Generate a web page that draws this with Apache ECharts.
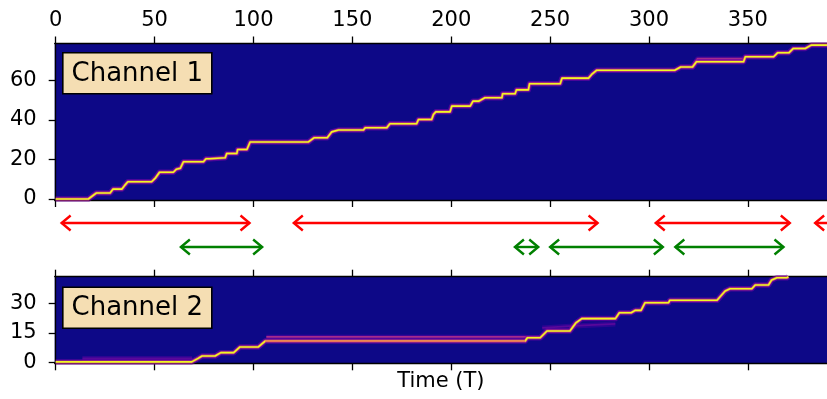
<!DOCTYPE html>
<html>
<head>
<meta charset="utf-8">
<script src="https://cdn.jsdelivr.net/npm/echarts@6/dist/echarts.min.js"></script>
<style>html,body{margin:0;padding:0;background:#fff}#c{width:827px;height:399px}</style>
</head>
<body>
<div id="c"></div>
<script>
// ---- data ----
const xTicks = [0, 50, 100, 150, 200, 250, 300, 350];
const ch1YTicks = [0, 20, 40, 60];
const ch2YTicks = [0, 15, 30];

// Channel 1 most-likely state path (time, state)
const ch1T = [0,16.5,20.5,27.5,29,33.5,35,36.5,48.5,50.5,52.5,59.5,61,63,64.6,74.7,76,78,79,85.7,86.5,91.6,92,96.7,98.3,127.8,130.6,137.3,139.6,143,155.6,156.5,167.4,169,182.5,183.4,190.1,191,192.2,199.4,200.3,209.6,211,214,217,225.6,226,232.3,233,239,239.6,255.1,256,269.4,271,273.6,313,316,322,324,347.8,348.7,363,365,370.7,373,379,382,390];
const ch1S = [0,0,3,3,5,5,7,8.7,8.7,10.7,13.5,13.5,15,15.5,18.8,18.8,20.3,20.3,20.8,20.8,23,23,25,25,28.8,28.8,30.9,30.9,33.9,34.8,34.8,36,36,38,38,40.1,40.1,42.7,44,44,46.9,46.9,49.4,49.4,51.1,51.1,53.1,53.1,55.1,55.1,58.2,58.2,61,61,62.9,65,65,66.6,66.6,69.3,69.3,71.8,71.8,73.8,73.8,76,76,77.7,77.7];
// Channel 1 secondary (weaker) path
const ch1AltT = [322, 324.5, 347.5];
const ch1AltS = [66.6, 70.8, 70.8];

// Channel 2 most-likely state path
const ch2T = [0,68.8,72,74,80.6,83.5,90,93.2,102.5,105.9,237.4,238.5,245,248.4,260,263,266,283,285,291,293,296,298,309.9,310.5,334.4,338.5,341,352,353.7,360.4,362,364.7,369.8,370.5];
const ch2S = [0.2,0.2,2,3.2,3.2,4.9,4.9,7.8,7.8,10.8,10.8,12.5,12.5,15.9,15.9,20,22.2,22.2,25.2,25.2,26.4,26.4,30.3,30.3,31.5,31.5,36.2,37.4,37.4,39.3,39.3,41.8,43,43,43.5];
// Channel 2 split section (shared probability, dimmer)
const ch2SplitT = [106, 237.4];
const ch2SplitS = [10.8, 10.8];
// Channel 2 secondary paths
const ch2Alt1T = [13.5, 69];
const ch2Alt1S = [2, 2];
const ch2Alt2T = [106.5, 238];
const ch2Alt2S = [12.9, 12.9];
const ch2Alt3T = [246, 262, 283];
const ch2Alt3S = [17.5, 18.5, 19.5];

// Interval arrows: [start, end]
const redArrows = [[3, 98], [120.4, 274], [303.4, 371.2], [384, 420]];
const greenArrows = [[63.3, 104.4], [232.2, 244], [250, 307], [313.3, 368]];

// ---- chart ----
const FONT = 'DejaVu Sans';
const zip = (a, b) => a.map((v, i) => [v, b[i]]);
const chart = echarts.init(document.getElementById('c'), null, {renderer: 'canvas'});

const X0 = -0.5, X1 = 390;
const GL = 54.7;
const axisLineStyle = {color: '#000', width: 1.3};
const tickStyle = {color: '#000', width: 1.3};

function xAx(grid, pos, opts) {
  return Object.assign({
    type: 'value', gridIndex: grid, position: pos, min: X0, max: X1,
    axisLine: {show: true, onZero: false, lineStyle: axisLineStyle},
    axisTick: {show: true, length: 7, lineStyle: tickStyle, customValues: xTicks},
    axisLabel: {show: false, customValues: xTicks},
    splitLine: {show: false}
  }, opts || {});
}

function pathSeries(xIdx, yIdx, T, S, layers) {
  return layers.map(l => ({
    type: 'line', xAxisIndex: xIdx, yAxisIndex: yIdx,
    data: zip(T, S), symbol: 'none', showSymbol: false, animation: false,
    clip: true, z: l.z || 2,
    lineStyle: {color: l.color, width: l.width, opacity: l.opacity == null ? 1 : l.opacity, join: 'round', cap: 'butt'}
  }));
}
const mainLayers = [
  {color: '#7e03a8', width: 5.5, opacity: 0.55, z: 2},
  {color: '#cc4778', width: 3, opacity: 0.85, z: 3},
  {color: '#f0f921', width: 1.6, z: 4}
];
const altLayers = [
  {color: '#6a00a8', width: 4.5, opacity: 0.5, z: 2},
  {color: '#b83289', width: 1.8, opacity: 0.85, z: 2}
];
const faintLayers = [
  {color: '#5c01a6', width: 5, opacity: 0.4, z: 2},
  {color: '#8f0da4', width: 1.8, opacity: 0.45, z: 2}
];

function arrowSeries(arr, row, color) {
  return {
    type: 'custom', xAxisIndex: 2, yAxisIndex: 1, clip: false, animation: false,
    data: arr.map(a => [a[0], a[1], row]),
    renderItem: function (params, api) {
      const p1 = api.coord([api.value(0), api.value(2)]);
      const p2 = api.coord([api.value(1), api.value(2)]);
      const hl = 9, hw = 7.5;
      const st = {stroke: color, lineWidth: 2.4, fill: null, lineJoin: 'miter'};
      return {
        type: 'group',
        children: [
          {type: 'line', shape: {x1: p1[0], y1: p1[1], x2: p2[0], y2: p2[1]}, style: st},
          {type: 'polyline', shape: {points: [[p1[0] + hl, p1[1] - hw], [p1[0], p1[1]], [p1[0] + hl, p1[1] + hw]]}, style: st},
          {type: 'polyline', shape: {points: [[p2[0] - hl, p2[1] - hw], [p2[0], p2[1]], [p2[0] - hl, p2[1] + hw]]}, style: st}
        ]
      };
    }
  };
}

function labelBox(text, x, y) {
  return {
    type: 'group', left: x, top: y, z: 100,
    children: [
      {type: 'rect', shape: {x: 0, y: 0, width: 149, height: 41}, style: {fill: '#f5deb3', stroke: '#000', lineWidth: 1.6}, z: 100},
      {type: 'text', x: 74.5, y: 21, style: {text: text, fill: '#000', font: '26px "DejaVu Sans"', align: 'center', verticalAlign: 'middle'}, z: 101}
    ]
  };
}

const option = {
  backgroundColor: '#fff',
  animation: false,
  textStyle: {fontFamily: FONT},
  grid: [
    {left: GL, right: 0, top: 43.5, height: 156.5, show: true, backgroundColor: '#0d0887', borderWidth: 0},
    {left: GL, right: 0, top: 211, height: 48, show: false},
    {left: GL, right: 0, top: 276.7, height: 86.6, show: true, backgroundColor: '#0d0887', borderWidth: 0}
  ],
  xAxis: [
    xAx(0, 'top', {axisLabel: {show: true, customValues: xTicks, margin: 12, fontSize: 21, color: '#000', fontFamily: FONT}}),
    xAx(0, 'bottom'),
    {type: 'value', gridIndex: 1, min: X0, max: X1, show: false},
    xAx(2, 'top'),
    xAx(2, 'bottom', {name: 'Time (T)', nameLocation: 'middle', nameGap: 8,
      nameTextStyle: {fontSize: 21, color: '#000', fontFamily: FONT, verticalAlign: 'top'}})
  ],
  yAxis: [
    {type: 'value', gridIndex: 0, min: -0.5, max: 78.5,
      axisLine: {show: true, lineStyle: axisLineStyle},
      axisTick: {show: true, length: 7, lineStyle: tickStyle, customValues: ch1YTicks},
      axisLabel: {show: true, customValues: ch1YTicks, margin: 18, fontSize: 21, color: '#000', fontFamily: FONT},
      splitLine: {show: false}},
    {type: 'value', gridIndex: 1, min: -0.5, max: 1.5, show: false},
    {type: 'value', gridIndex: 2, min: -0.5, max: 43.5,
      axisLine: {show: true, lineStyle: axisLineStyle},
      axisTick: {show: true, length: 7, lineStyle: tickStyle, customValues: ch2YTicks},
      axisLabel: {show: true, customValues: ch2YTicks, margin: 18, fontSize: 21, color: '#000', fontFamily: FONT},
      splitLine: {show: false}}
  ],
  series: [].concat(
    pathSeries(0, 0, ch1AltT, ch1AltS, altLayers),
    pathSeries(0, 0, ch1T, ch1S, mainLayers),
    pathSeries(4, 2, ch2Alt1T, ch2Alt1S, faintLayers),
    pathSeries(4, 2, ch2Alt3T, ch2Alt3S, faintLayers),
    pathSeries(4, 2, ch2Alt2T, ch2Alt2S, altLayers),
    pathSeries(4, 2, ch2T, ch2S, mainLayers),
    pathSeries(4, 2, ch2SplitT, ch2SplitS, [{color: '#e8735a', width: 1.8, z: 5}]),
    [arrowSeries(redArrows, 1, '#ff0000'), arrowSeries(greenArrows, 0, '#008000')]
  ),
  graphic: [labelBox('Channel 1', 62, 52), labelBox('Channel 2', 62, 286.5)]
};
chart.setOption(option);
</script>
</body>
</html>
